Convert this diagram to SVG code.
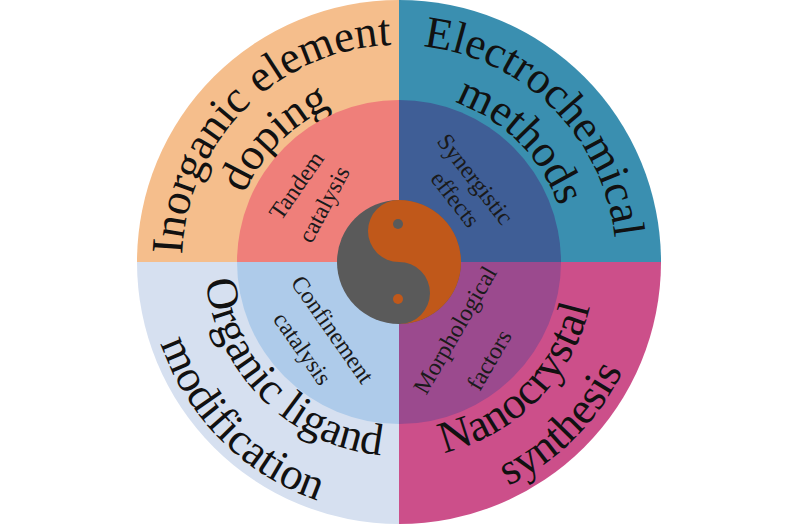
<svg xmlns="http://www.w3.org/2000/svg" width="800" height="530" viewBox="0 0 800 530">
<style>
.o{font-family:"Liberation Serif",serif;font-size:45px;fill:#111}
.i{font-family:"Liberation Serif",serif;font-size:24px;fill:#1a1a1a;text-anchor:middle}
</style>
<defs>
<path id="tl1" d="M182,262 A217,217 0 0 1 399,45"/>
<path id="tl2" d="M230,262 A169,169 0 0 1 399,93"/>
<path id="tr1" d="M399,45 A217,217 0 0 1 616,262"/>
<path id="tr2" d="M399,93 A169,169 0 0 1 568,262"/>
<path id="bl1" d="M205,262 A194,194 0 0 0 399,456"/>
<path id="bl2" d="M147,262 A252,252 0 0 0 399,514"/>
<path id="br1" d="M399,458 A196,196 0 0 0 595,262"/>
<path id="br2" d="M399,511 A249,249 0 0 0 648,262"/>
</defs>
<rect width="800" height="530" fill="#fff"/>
<g id="outer">
<path d="M399,262 L137,262 A262,262 0 0 1 399,0 Z" fill="#F5BE8C"/>
<path d="M399,262 L399,0 A262,262 0 0 1 661,262 Z" fill="#3A8FB0"/>
<path d="M399,262 L137,262 A262,262 0 0 0 399,524 Z" fill="#D6E0F0"/>
<path d="M399,262 L399,524 A262,262 0 0 0 661,262 Z" fill="#CC4F8A"/>
<text class="o" text-anchor="middle"><textPath href="#tl1" startOffset="50%">Inorganic element</textPath></text>
<text class="o" text-anchor="middle"><textPath href="#tl2" startOffset="50%">doping</textPath></text>
<text class="o" text-anchor="middle"><textPath href="#tr1" startOffset="50%">Electrochemical</textPath></text>
<text class="o" text-anchor="middle"><textPath href="#tr2" startOffset="50%">methods</textPath></text>
<text class="o" text-anchor="middle"><textPath href="#bl1" startOffset="50%">Organic ligand</textPath></text>
<text class="o" text-anchor="middle"><textPath href="#bl2" startOffset="50%">modification</textPath></text>
<text class="o" text-anchor="middle"><textPath href="#br1" startOffset="50%">Nanocrystal</textPath></text>
<text class="o" text-anchor="middle"><textPath href="#br2" startOffset="50%">synthesis</textPath></text>
</g>
<g id="inner">
<path d="M399,262 L237,262 A162,162 0 0 1 399,100 Z" fill="#EF7F7A"/>
<path d="M399,262 L399,100 A162,162 0 0 1 561,262 Z" fill="#3F5E96"/>
<path d="M399,262 L237,262 A162,162 0 0 0 399,424 Z" fill="#AECBEA"/>
<path d="M399,262 L399,424 A162,162 0 0 0 561,262 Z" fill="#9B4A8E"/>
<text class="i" transform="translate(303,190) rotate(-55)">Tandem</text>
<text class="i" transform="translate(331,208) rotate(-62)">catalysis</text>
<text class="i" transform="translate(469,184) rotate(52)">Synergistic</text>
<text class="i" transform="translate(449,204) rotate(52)">effects</text>
<text class="i" transform="translate(326,334) rotate(55)">Confinement</text>
<text class="i" transform="translate(296,353) rotate(55)">catalysis</text>
<text class="i" transform="translate(462,334) rotate(-60)">Morphological</text>
<text class="i" transform="translate(496,364) rotate(-60)">factors</text>
</g>
<g id="yinyang">
<circle cx="399" cy="262" r="62" fill="#5A5A5A"/>
<path d="M399,200 A62,62 0 0 1 399,324 A31,31 0 0 0 399,262 A31,31 0 0 1 399,200 Z" fill="#C0581A"/>
<circle cx="398" cy="224" r="5" fill="#5A5A5A"/>
<circle cx="398" cy="299" r="5" fill="#C0581A"/>
</g>
<g id="connectors"/>
</svg>
